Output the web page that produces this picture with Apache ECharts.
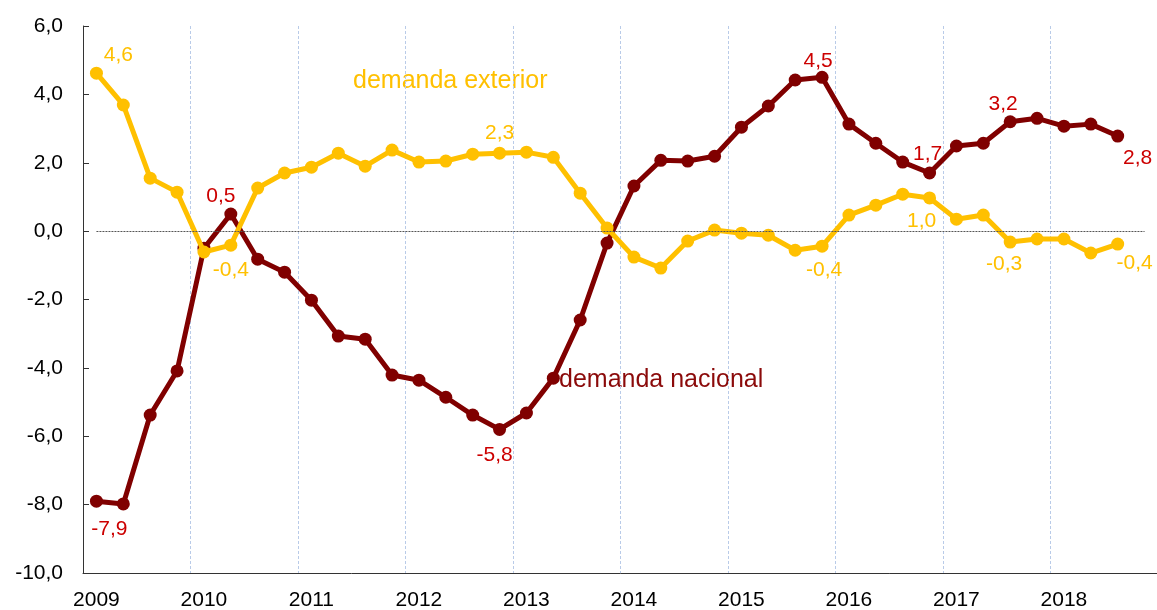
<!DOCTYPE html>
<html>
<head>
<meta charset="utf-8">
<script src="https://cdn.jsdelivr.net/npm/echarts@6/dist/echarts.min.js"></script>
<style>
  html, body { margin: 0; padding: 0; background: #fff; }
  #main { width: 1157px; height: 610px; }
</style>
</head>
<body>
<div id="main"></div>
<script>
  // categorías trimestrales 2009T1 - 2018T4
  const years = ['2009', '2010', '2011', '2012', '2013', '2014', '2015', '2016', '2017', '2018']
  const quarters = ['T1', 'T2', 'T3', 'T4']

  // aportación al crecimiento del PIB (puntos)
  const demandaNacional = [
    -7.9, -7.98, -5.38, -4.09, -0.5, 0.5, -0.82, -1.2, -2.02, -3.07,
    -3.16, -4.21, -4.36, -4.86, -5.38, -5.8, -5.32, -4.3, -2.6, -0.35,
    1.32, 2.07, 2.05, 2.19, 3.04, 3.66, 4.42, 4.5, 3.13, 2.57,
    2.02, 1.7, 2.49, 2.57, 3.2, 3.3, 3.07, 3.13, 2.78
  ]
  const demandaExterior = [
    4.62, 3.69, 1.55, 1.14, -0.61, -0.41, 1.26, 1.7, 1.87, 2.28,
    1.9, 2.37, 2.02, 2.05, 2.25, 2.28, 2.31, 2.16, 1.11, 0.09,
    -0.76, -1.08, -0.29, 0.03, -0.06, -0.12, -0.56, -0.44, 0.47, 0.76,
    1.08, 0.97, 0.35, 0.47, -0.32, -0.23, -0.23, -0.64, -0.38
  ]

  // etiquetas visibles: índice -> desplazamiento [dx, dy]
  const labelsNacional = { 0: [13, 28], 5: [-10, -18], 15: [-5, 26], 27: [-4, -16], 31: [-2, -19], 34: [-7, -18], 38: [20, 22] }
  const labelsExterior = { 0: [22, -18], 5: [0, 25], 15: [0, -20], 27: [2, 24], 31: [-8, 23], 34: [-6, 22], 38: [17, 19] }

  const categories = []
  years.forEach((y) => quarters.forEach((q) => categories.push(y + ' ' + q)))

  const fmt = (v) => v.toFixed(1).replace('.', ',')

  function buildData(values, labels, color) {
    return values.map((v, i) => {
      if (!labels[i]) return v
      return {
        value: v,
        label: {
          show: true,
          position: 'inside',
          offset: labels[i],
          color: color,
          fontSize: 21,
          fontFamily: 'Liberation Sans, Arial',
          formatter: (p) => fmt(p.value)
        }
      }
    })
  }

  const myChart = echarts.init(document.getElementById('main'))
  myChart.setOption({
    animation: false,
    grid: { left: 83, right: -1, top: 26, bottom: 37, containLabel: false, outerBoundsMode: 'none' },
    xAxis: {
      type: 'category',
      data: categories,
      boundaryGap: true,
      axisLine: { onZero: false, lineStyle: { color: '#333', width: 1 } },
      axisTick: { interval: 3, length: 7, lineStyle: { color: '#333' } },
      axisLabel: {
        interval: 3,
        margin: 17,
        color: '#000',
        fontSize: 21,
        fontFamily: 'Liberation Sans, Arial',
        formatter: (v) => v.split(' ')[0]
      },
      splitLine: {
        show: true,
        interval: 3,
        lineStyle: { color: '#b9cbe8', type: [3, 2], width: 1 }
      }
    },
    yAxis: {
      type: 'value',
      min: -10,
      max: 6,
      interval: 2,
      axisLine: { show: true, lineStyle: { color: '#333', width: 1 } },
      axisTick: { show: true, inside: true, length: 6, lineStyle: { color: '#333' } },
      axisLabel: {
        margin: 20,
        color: '#000',
        fontSize: 21,
        fontFamily: 'Liberation Sans, Arial',
        formatter: (v) => fmt(v)
      },
      splitLine: { show: false }
    },
    series: [
      {
        name: 'demanda nacional',
        type: 'line',
        data: buildData(demandaNacional, labelsNacional, '#cc0000'),
        symbol: 'circle',
        symbolSize: 13,
        itemStyle: { color: '#800000' },
        lineStyle: { color: '#800000', width: 5 },
        z: 3,
        markLine: {
          silent: true,
          symbol: 'none',
          label: { show: false },
          lineStyle: { color: '#555', type: [2, 1], width: 1 },
          data: [[{ coord: [0, 0] }, { coord: [39, 0] }]]
        }
      },
      {
        name: 'demanda exterior',
        type: 'line',
        data: buildData(demandaExterior, labelsExterior, '#ffc000'),
        symbol: 'circle',
        symbolSize: 13,
        itemStyle: { color: '#ffc000' },
        lineStyle: { color: '#ffc000', width: 5 },
        z: 4
      }
    ],
    graphic: [
      {
        type: 'text',
        x: 353,
        y: 81,
        style: {
          text: 'demanda exterior',
          fill: '#ffc000',
          font: '25px "Liberation Sans", Arial',
          verticalAlign: 'middle'
        }
      },
      {
        type: 'text',
        x: 559,
        y: 380,
        style: {
          text: 'demanda nacional',
          fill: '#8b0a0a',
          font: '25px "Liberation Sans", Arial',
          verticalAlign: 'middle'
        }
      }
    ]
  })
</script>
</body>
</html>
